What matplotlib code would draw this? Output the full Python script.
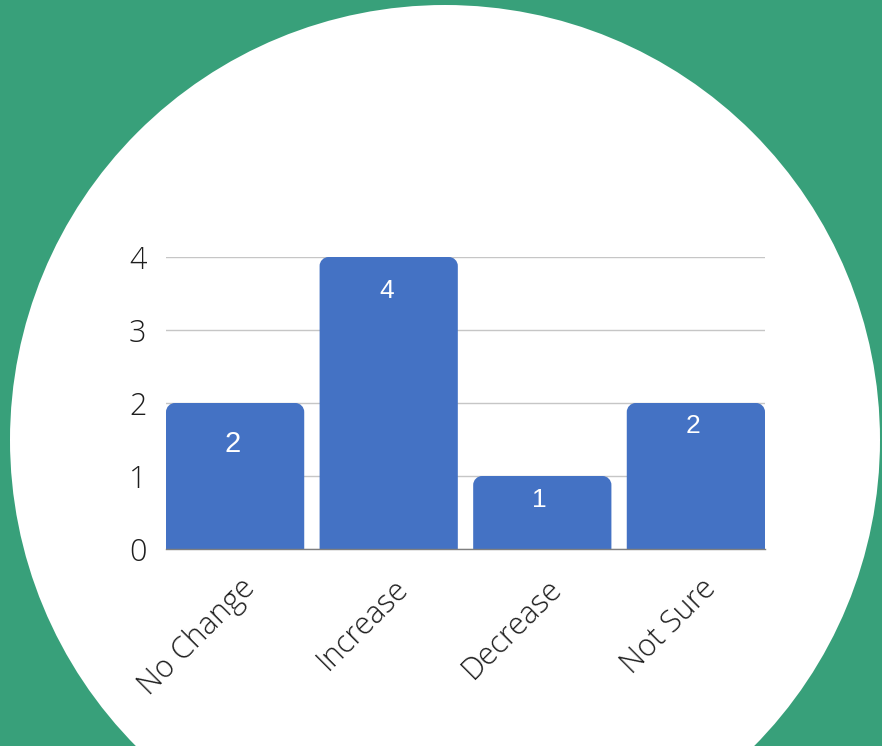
import matplotlib.pyplot as plt
from matplotlib.patches import Circle, PathPatch
from matplotlib.path import Path
import matplotlib.transforms as mtransforms

categories = ["No Change", "Increase", "Decrease", "Not Sure"]
counts = [2, 4, 1, 2]

# pixel drop of each value label below its bar top (as in the source image)
label_drop = [41, 34, 24, 23]
label_size = [21, 19, 19, 19]

GREEN = "#38A07A"
BLUE = "#4472C4"
INK = "#1E1E1E"

plt.rcParams["font.family"] = ["Open Sans", "DejaVu Sans"]

W, H = 882, 746
fig = plt.figure(figsize=(W / 100, H / 100), dpi=100, facecolor=GREEN)

# background circle, drawn in pixel units
bg = fig.add_axes([0, 0, 1, 1], zorder=0)
bg.set_xlim(0, W)
bg.set_ylim(H, 0)
bg.axis("off")
bg.add_patch(Circle((445, 440), 435, facecolor="white", edgecolor="none"))

ax = fig.add_axes([166 / W, (H - 549) / H, 599 / W, 292 / H], zorder=1)
ax.patch.set_alpha(0)

x = list(range(len(categories)))
width = 0.9
ax.set_xlim(-0.45, len(categories) - 0.55)
ax.set_ylim(0, 4)

# px per data unit, used for rounded corners
px_x = 599 / (len(categories) - 0.1)
px_y = 292 / 4
r = 9
rx, ry = r / px_x, r / px_y
k = 0.5523


def rounded_bar(x0, x1, h):
    verts = [
        (x0, 0), (x0, h - ry),
        (x0, h - ry + k * ry), (x0 + rx - k * rx, h), (x0 + rx, h),
        (x1 - rx, h),
        (x1 - rx + k * rx, h), (x1, h - ry + k * ry), (x1, h - ry),
        (x1, 0), (x0, 0),
    ]
    codes = [Path.MOVETO, Path.LINETO,
             Path.CURVE4, Path.CURVE4, Path.CURVE4,
             Path.LINETO,
             Path.CURVE4, Path.CURVE4, Path.CURVE4,
             Path.LINETO, Path.CLOSEPOLY]
    return Path(verts, codes)


for xi, c, drop, fs in zip(x, counts, label_drop, label_size):
    p = rounded_bar(xi - width / 2, xi + width / 2, c)
    ax.add_patch(PathPatch(p, facecolor=BLUE, edgecolor="none", zorder=3))
    ax.annotate(str(c), (xi, c), xytext=(-2.5 * 0.72, -drop * 0.72), textcoords="offset points",
                ha="center", va="center", color="white", fontsize=fs,
                family="Liberation Sans", zorder=4)

ax.set_yticks([0, 1, 2, 3, 4])
ax.grid(axis="y", color="#C6C6C6", linewidth=1)
ax.set_axisbelow(True)
for s in ["top", "right", "left"]:
    ax.spines[s].set_visible(False)
ax.spines["bottom"].set_color("#7F7F7F")
ax.spines["bottom"].set_linewidth(1)
ax.spines["bottom"].set_zorder(5)

ax.tick_params(axis="y", length=0, pad=14, labelsize=22, labelcolor=INK)
ax.tick_params(axis="x", length=0, pad=25, labelsize=22, labelcolor=INK)
for lbl in ax.get_yticklabels():
    lbl.set_fontweight("light")

ax.set_xticks(x)
ax.set_xticklabels(categories, rotation=45, ha="right", va="center",
                   rotation_mode="anchor", fontweight="light")
offset = mtransforms.ScaledTranslation(11 / 72, 0, fig.dpi_scale_trans)
for lbl in ax.get_xticklabels():
    lbl.set_transform(lbl.get_transform() + offset)

fig.savefig("out.png", dpi=100, facecolor=GREEN)
